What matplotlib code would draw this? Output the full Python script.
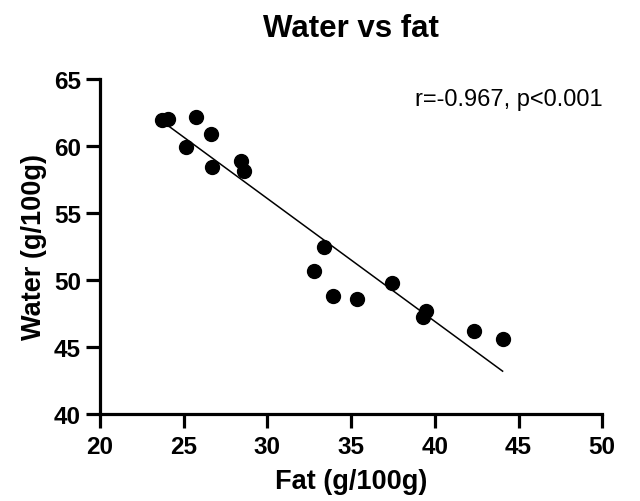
import numpy as np
import matplotlib.pyplot as plt

plt.rcParams['font.family'] = ['Liberation Sans', 'DejaVu Sans']

# fat and water content (g/100g)
fat = [23.69, 24.05, 25.77, 26.61, 25.12, 26.67, 28.45, 28.63, 33.39,
       32.80, 33.93, 35.36, 37.44, 39.46, 39.29, 42.32, 44.05]
water = [61.94, 62.01, 62.16, 60.90, 59.93, 58.43, 58.88, 58.13, 52.46,
         50.67, 48.81, 48.58, 49.78, 47.69, 47.24, 46.19, 45.60]
stats_text = "r=-0.967, p<0.001"

x = np.array(fat)
y = np.array(water)
slope, intercept = np.polyfit(x, y, 1)
xfit = np.array([x.min(), x.max()])

fig = plt.figure(figsize=(6.4, 5.02), dpi=100)
ax = fig.add_axes([0.156, 0.173, 0.785, 0.668])

ax.plot(xfit, slope * xfit + intercept, color="black", lw=1.1, zorder=2)
ax.scatter(x, y, s=100, color="black", zorder=3, clip_on=False)

ax.set_xlim(20, 50)
ax.set_ylim(40, 65)
ax.set_xticks(np.arange(20, 51, 5))
ax.set_yticks(np.arange(40, 66, 5))

for side in ["top", "right"]:
    ax.spines[side].set_visible(False)
for side in ["left", "bottom"]:
    ax.spines[side].set_linewidth(2.3)
ax.tick_params(width=2.3, length=10, labelsize=17.5)
ax.tick_params(axis="x", pad=5)
ax.tick_params(axis="y", pad=3.5)
for lab in ax.get_xticklabels() + ax.get_yticklabels():
    lab.set_fontweight("bold")

ax.set_xlabel("Fat (g/100g)", fontsize=19.5, fontweight="bold", labelpad=7)
ax.set_ylabel("Water (g/100g)", fontsize=19.5, fontweight="bold", labelpad=5)
ax.set_title("Water vs fat", fontsize=22.5, fontweight="bold", pad=31)

ax.text(1.0, 0.94, stats_text, transform=ax.transAxes, ha="right",
        va="center", fontsize=17)

fig.savefig("out.png", dpi=100)
